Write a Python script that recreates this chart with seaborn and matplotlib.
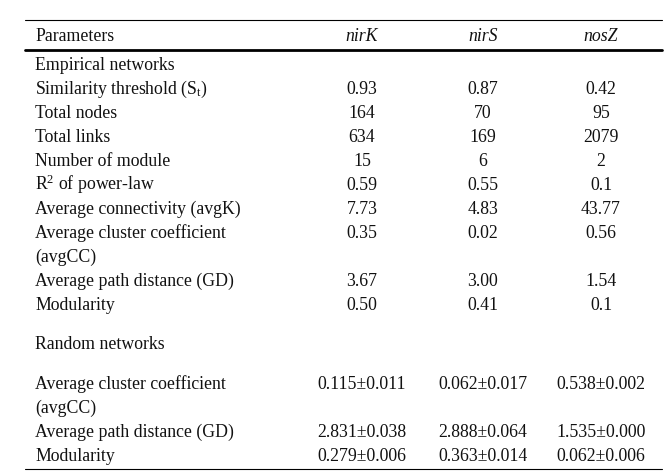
import matplotlib
matplotlib.use("Agg")
import matplotlib.pyplot as plt
import seaborn as sns

# table content
headers = ["Parameters", "nirK", "nirS", "nosZ"]
section_empirical = "Empirical networks"
emp_params = ["Similarity threshold (S$_\\mathrm{t}$)", "Total nodes", "Total links",
              "Number of module", "R$^{\\mathrm{2}}$ of power-law", "Average connectivity (avgK)",
              "Average cluster coefficient\n(avgCC)", "Average path distance (GD)", "Modularity"]
emp_nirK = ["0.93", "164", "634", "15", "0.59", "7.73", "0.35", "3.67", "0.50"]
emp_nirS = ["0.87", "70", "169", "6", "0.55", "4.83", "0.02", "3.00", "0.41"]
emp_nosZ = ["0.42", "95", "2079", "2", "0.1", "43.77", "0.56", "1.54", "0.1"]

section_random = "Random networks"
rnd_params = ["Average cluster coefficient\n(avgCC)", "Average path distance (GD)", "Modularity"]
rnd_nirK = ["0.115\u00b10.011", "2.831\u00b10.038", "0.279\u00b10.006"]
rnd_nirS = ["0.062\u00b10.017", "2.888\u00b10.064", "0.363\u00b10.014"]
rnd_nosZ = ["0.538\u00b10.002", "1.535\u00b10.000", "0.062\u00b10.006"]

sns.set_theme(style="white")
plt.rcParams['font.family'] = ['Liberation Serif', 'DejaVu Serif']
plt.rcParams['mathtext.fontset'] = 'custom'
plt.rcParams['mathtext.rm'] = 'Liberation Serif'
plt.rcParams['mathtext.it'] = 'Liberation Serif:italic'

W, H = 671, 473
fig = plt.figure(figsize=(W / 100, H / 100), dpi=100)
ax = fig.add_axes([0, 0, 1, 1])
ax.set_xlim(0, W)
ax.set_ylim(H, 0)
ax.axis('off')

fs = 12.8
x_label = 35
x_cols = [362, 483, 601]
step = 24
base = 6  # baseline offset from row centre


def txt(x, y, s, **kw):
    ax.text(x, y + base, s, fontsize=fs, va='baseline', color='#111111', **kw)


def put_row(y, label, vals):
    lines = label.split("\n")
    for k, ln in enumerate(lines):
        txt(x_label, y + k * step, ln, ha='left')
    for xc, v in zip(x_cols, vals):
        txt(xc, y, v, ha='center')
    return y + len(lines) * step


# header
txt(x_label, 35, headers[0], ha='left')
for xc, h in zip(x_cols, headers[1:]):
    txt(xc, 35, h, ha='center', style='italic')

ax.plot([25, 662], [20, 20], color='black', lw=0.8)
ax.plot([25, 662], [50, 50], color='black', lw=2.0)
ax.plot([25, 662], [469, 469], color='black', lw=0.8)

y = 64
txt(x_label, y, section_empirical, ha='left')
y += step
for lab, a, b, c in zip(emp_params, emp_nirK, emp_nirS, emp_nosZ):
    y = put_row(y, lab, [a, b, c])

y = 343
txt(x_label, y, section_random, ha='left')
y = 383
for lab, a, b, c in zip(rnd_params, rnd_nirK, rnd_nirS, rnd_nosZ):
    y = put_row(y, lab, [a, b, c])

fig.savefig("out.png", dpi=100)
